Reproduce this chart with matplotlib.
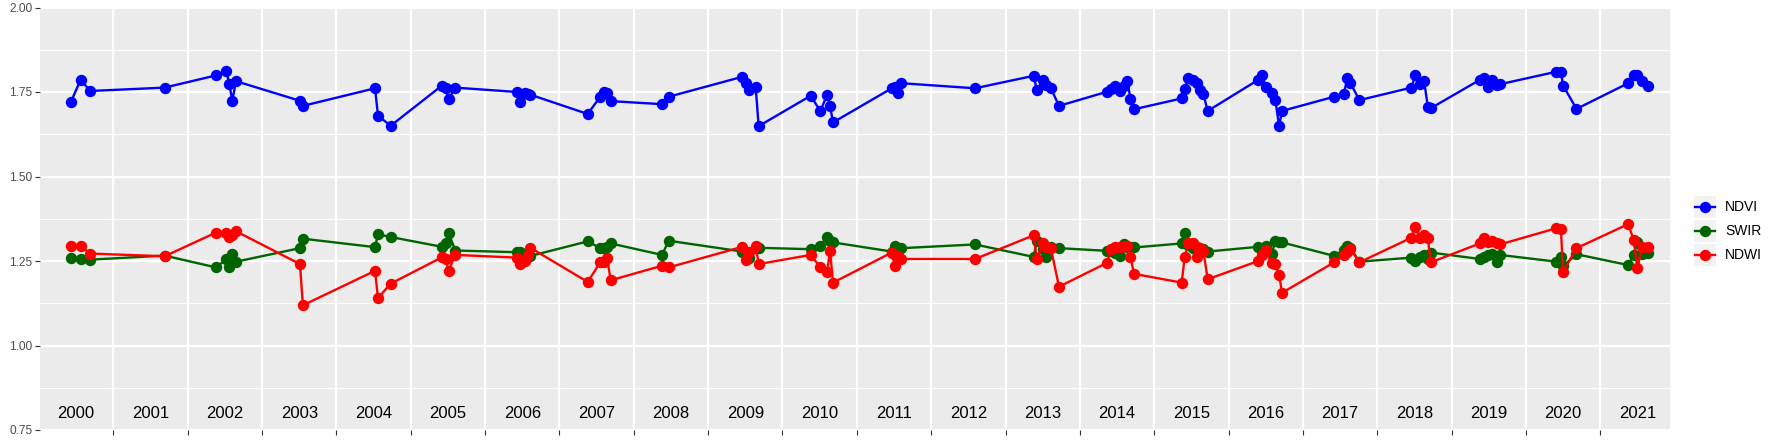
import matplotlib
matplotlib.use("Agg")
import matplotlib.pyplot as plt
from matplotlib.lines import Line2D
from matplotlib.patches import Rectangle

plt.rcParams['font.family'] = ['Liberation Sans', 'DejaVu Sans']

# ---- data (decimal years) ----
dates = [2000.43, 2000.56, 2000.69,
         2001.69,
         2002.38, 2002.52, 2002.56, 2002.60, 2002.65,
         2003.51, 2003.55,
         2004.52, 2004.56, 2004.73,
         2005.42, 2005.47, 2005.51, 2005.60,
         2006.43, 2006.47, 2006.54, 2006.58, 2006.61,
         2007.38, 2007.55, 2007.60, 2007.64, 2007.69,
         2008.38, 2008.47,
         2009.46, 2009.51, 2009.55, 2009.64, 2009.68,
         2010.38, 2010.51, 2010.60, 2010.64, 2010.68,
         2011.47, 2011.51, 2011.55, 2011.60,
         2012.59,
         2013.38, 2013.42, 2013.51, 2013.55, 2013.61, 2013.72,
         2014.37, 2014.42, 2014.47, 2014.54, 2014.59, 2014.64, 2014.68, 2014.73,
         2015.37, 2015.41, 2015.46, 2015.52, 2015.57, 2015.62, 2015.66, 2015.72,
         2016.40, 2016.45, 2016.50, 2016.58, 2016.63, 2016.68, 2016.72,
         2017.42, 2017.55, 2017.60, 2017.64, 2017.76,
         2018.46, 2018.51, 2018.57, 2018.63, 2018.68, 2018.72,
         2019.38, 2019.43, 2019.49, 2019.55, 2019.61, 2019.65,
         2020.41, 2020.47, 2020.50, 2020.68,
         2021.375, 2021.45, 2021.50, 2021.56, 2021.64]

ndvi = [1.721, 1.786, 1.753,
        1.763,
        1.799, 1.812, 1.774, 1.724, 1.782,
        1.724, 1.709,
        1.761, 1.680, 1.650,
        1.769, 1.761, 1.729, 1.763,
        1.750, 1.721, 1.746, 1.744, 1.742,
        1.685, 1.736, 1.751, 1.746, 1.723,
        1.714, 1.736,
        1.795, 1.778, 1.756, 1.764, 1.649,
        1.739, 1.693, 1.742, 1.709, 1.660,
        1.761, 1.764, 1.748, 1.776,
        1.761,
        1.798, 1.756, 1.785, 1.771, 1.761, 1.709,
        1.751, 1.758, 1.768, 1.754, 1.768, 1.783, 1.729, 1.699,
        1.731, 1.758, 1.792, 1.786, 1.778, 1.756, 1.744, 1.694,
        1.786, 1.800, 1.766, 1.746, 1.726, 1.649, 1.694,
        1.736, 1.744, 1.792, 1.776, 1.726,
        1.763, 1.799, 1.773, 1.783, 1.707, 1.702,
        1.786, 1.791, 1.766, 1.786, 1.771, 1.773,
        1.810, 1.810, 1.769, 1.700,
        1.776, 1.800, 1.800, 1.783, 1.769]

swir = [1.258, 1.256, 1.254,
        1.266,
        1.231, 1.255, 1.233, 1.271, 1.248,
        1.288, 1.316,
        1.291, 1.329, 1.321,
        1.292, 1.302, 1.333, 1.281,
        1.276, 1.278, 1.272, 1.266, 1.265,
        1.308, 1.288, 1.288, 1.291, 1.302,
        1.268, 1.310,
        1.278, 1.275, 1.258, 1.289, 1.289,
        1.285, 1.294, 1.322, 1.310, 1.305,
        1.278, 1.294, 1.281, 1.288,
        1.299,
        1.262, 1.310, 1.285, 1.262, 1.290, 1.288,
        1.280, 1.280, 1.275, 1.265, 1.300, 1.290, 1.290, 1.290,
        1.302, 1.332, 1.297, 1.288, 1.292, 1.283, 1.285, 1.278,
        1.292, 1.280, 1.295, 1.270, 1.310, 1.305, 1.305,
        1.265, 1.283, 1.295, 1.288, 1.248,
        1.260, 1.250, 1.263, 1.268, 1.257, 1.275,
        1.256, 1.263, 1.268, 1.270, 1.248, 1.268,
        1.248, 1.263, 1.235, 1.270,
        1.238, 1.268, 1.305, 1.271, 1.273]

ndwi = [1.295, 1.295, 1.272,
        1.264,
        1.334, 1.332, 1.320, 1.326, 1.338,
        1.241, 1.119,
        1.221, 1.140, 1.183,
        1.261, 1.256, 1.221, 1.268,
        1.260, 1.240, 1.250, 1.268, 1.289,
        1.188, 1.246, 1.248, 1.260, 1.193,
        1.236, 1.231,
        1.292, 1.253, 1.278, 1.294, 1.241,
        1.268, 1.231, 1.217, 1.280, 1.186,
        1.275, 1.236, 1.265, 1.256,
        1.256,
        1.326, 1.255, 1.304, 1.292, 1.288, 1.174,
        1.245, 1.285, 1.291, 1.291, 1.294, 1.294, 1.261, 1.212,
        1.186, 1.261, 1.304, 1.302, 1.261, 1.288, 1.281, 1.196,
        1.250, 1.268, 1.283, 1.243, 1.241, 1.209, 1.156,
        1.246, 1.268, 1.278, 1.286, 1.246,
        1.319, 1.352, 1.319, 1.327, 1.319, 1.246,
        1.302, 1.319, 1.307, 1.309, 1.302, 1.299,
        1.347, 1.345, 1.218, 1.288,
        1.359, 1.312, 1.228, 1.292, 1.292]

years = list(range(2000, 2022))
series_names = ['NDVI', 'SWIR', 'NDWI']
series_colors = ['#0000FF', '#006400', '#FF0000']
ytick_vals = [0.75, 1.00, 1.25, 1.50, 1.75, 2.00]
ytick_labels = ['0.75', '1.00', '1.25', '1.50', '1.75', '2.00']

# ---- figure ----
W, H = 1773, 442
DPI = 100
fig = plt.figure(figsize=(W / DPI, H / DPI), dpi=DPI)
L, R, T, B = 39.5, 1669.5, 7.5, 430
ax = fig.add_axes([L / W, 1 - B / H, (R - L) / W, (B - T) / H])
ax.set_facecolor('#EBEBEB')
ax.set_xlim(2000.007, 2021.931)
ax.set_ylim(0.75, 2.00)

ax.set_yticks(ytick_vals)
ax.set_yticklabels(ytick_labels)
ax.set_yticks([0.875, 1.125, 1.375, 1.625, 1.875], minor=True)
ax.set_xticks(years[1:])
ax.set_xticklabels([])
ax.tick_params(axis='both', which='major', length=3.5, width=0.8, color='#333333',
               labelsize=8.6, labelcolor='#4D4D4D', pad=1.5)
ax.tick_params(axis='y', which='minor', length=0)
ax.grid(which='major', color='white', lw=1.6)
ax.grid(which='minor', axis='y', color='white', lw=0.8)
ax.set_axisbelow(True)
for s in ax.spines.values():
    s.set_visible(False)

MS = 8.2
data = [ndvi, swir, ndwi]
for vals, c in zip(data, series_colors):
    ax.plot(dates, vals, '-', color=c, lw=1.7, zorder=3)
    ax.plot(dates, vals, 'o', color=c, ms=MS, mec='none', zorder=3)

for y in years:
    ax.text(y + 0.5, 0.80, str(y), ha='center', va='center', fontsize=12, color='black')

# ---- legend (manual, ggplot style) ----
row_y = [206.7, 230.7, 254.7]
kx0, kx1 = 1694, 1716
for name, c, ry in zip(series_names, series_colors, row_y):
    fig.add_artist(Rectangle((kx0 / W, 1 - (ry + 11) / H), (kx1 - kx0) / W, 22 / H,
                             transform=fig.transFigure, facecolor='#F2F2F2',
                             edgecolor='none'))
    fig.add_artist(Line2D([(kx0 + 1) / W, (kx1 - 1) / W], [1 - ry / H, 1 - ry / H],
                          transform=fig.transFigure, color=c, lw=1.7))
    fig.add_artist(Line2D([(kx0 + kx1) / 2 / W], [1 - ry / H], transform=fig.transFigure,
                          marker='o', color=c, ms=MS, mec='none', lw=0))
    fig.text(1725 / W, 1 - ry / H, name, ha='left', va='center', fontsize=10, color='black')

fig.savefig('out.png', dpi=DPI, facecolor='white')
